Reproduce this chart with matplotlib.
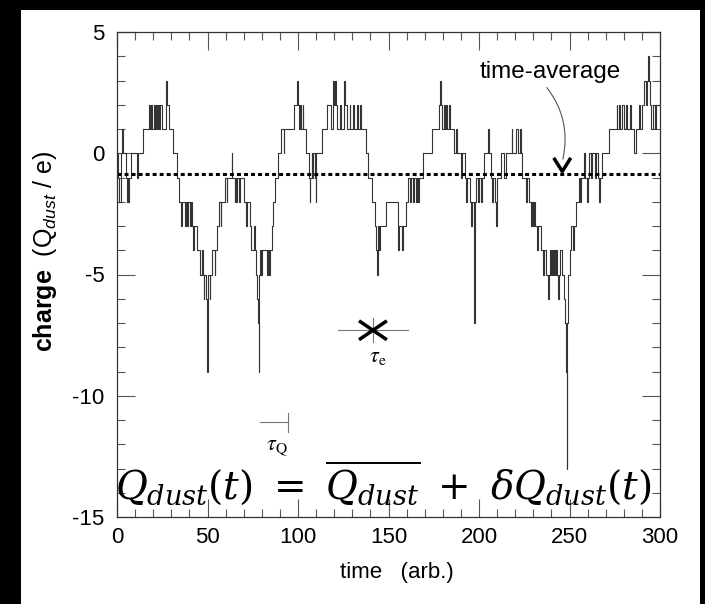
import matplotlib.pyplot as plt
from matplotlib.patches import Rectangle
from matplotlib.ticker import MultipleLocator

plt.rcParams['font.family'] = ['Liberation Sans', 'DejaVu Sans']
plt.rcParams['mathtext.fontset'] = 'custom'
plt.rcParams['mathtext.rm'] = 'Liberation Sans'
plt.rcParams['mathtext.it'] = 'Liberation Sans:italic'
plt.rcParams['mathtext.bf'] = 'Liberation Sans:bold'
plt.rcParams['axes.unicode_minus'] = False

# instantes de cambio de carga (tiempo arb.) y nivel de carga tras cada cambio
t_cambios = [0, 0.8, 1.2, 2.0, 2.4, 3.0, 3.4, 5.0, 5.5, 6.0, 6.3, 6.8, 7.5, 11.0, 11.4,
             14.5, 17.5, 18.0, 19.0, 19.4, 20.5, 21.0, 21.8, 22.2, 22.8, 23.3, 24.0, 25.0,
             27.0, 27.2, 27.6, 28.5, 31.0, 33.0, 34.5, 35.5, 36.0, 37.5, 38.0, 38.8, 39.3,
             40.2, 40.8, 41.5, 42.0, 42.4, 44.0, 46.0, 47.0, 47.5, 48.0, 48.3, 49.2, 49.5,
             49.8, 50.0, 50.5, 51.2, 51.5, 52.5, 54.0, 54.3, 55.5, 56.5, 57.2, 57.5, 59.5,
             60.5, 61.0, 63.5, 63.8, 65.0, 65.3, 66.0, 66.4, 67.3, 68.0, 70.0, 71.0, 72.0,
             73.5, 74.0, 75.5, 76.5, 77.0, 77.5, 77.8, 78.2, 78.5, 79.0, 79.5, 80.0, 83.0,
             83.3, 84.0, 84.5, 85.5, 86.2, 87.5, 89.0, 90.5, 92.0, 92.4, 98.0, 99.5, 99.8,
             100.5, 101.0, 101.6, 102.5, 103.0, 104.5, 106.0, 106.4, 106.8, 107.5, 108.0,
             108.4, 109.5, 109.8, 110.2, 113.0, 116.0, 118.0, 119.5, 120.0, 120.5, 121.0,
             121.8, 123.0, 124.0, 125.5, 126.2, 127.0, 128.5, 129.0, 130.5, 131.0, 132.5,
             133.0, 134.5, 135.0, 137.5, 138.5, 141.0, 142.5, 143.2, 143.6, 144.0, 145.0,
             145.4, 148.5, 155.0, 155.5, 156.0, 157.5, 158.0, 159.5, 161.0, 162.0, 162.5,
             163.5, 164.0, 165.0, 165.5, 166.5, 167.0, 169.0, 174.0, 178.0, 178.4, 178.8,
             179.5, 180.5, 181.0, 182.0, 182.5, 183.5, 184.0, 186.0, 187.5, 188.0, 190.0,
             190.5, 192.0, 193.0, 193.5, 195.0, 195.5, 196.0, 197.0, 197.5, 197.8, 198.5,
             199.5, 200.0, 201.0, 201.5, 203.0, 205.0, 205.5, 206.5, 207.0, 207.5, 209.0,
             209.5, 210.0, 212.0, 214.0, 215.0, 218.0, 218.5, 220.5, 221.5, 222.5, 223.0,
             224.0, 226.0, 226.5, 227.5, 229.0, 229.5, 230.0, 230.5, 231.0, 232.0, 232.5,
             234.0, 235.5, 236.0, 237.0, 238.0, 238.5, 239.0, 240.0, 240.5, 241.0, 241.5,
             242.0, 242.5, 243.0, 243.5, 244.0, 245.0, 246.0, 247.0, 247.5, 248.0, 248.4,
             248.7, 249.0, 250.0, 251.0, 252.0, 252.5, 253.5, 255.0, 256.0, 256.5, 258.0,
             258.5, 259.5, 260.0, 261.0, 262.0, 262.5, 264.0, 264.5, 266.0, 266.5, 267.0,
             268.0, 272.0, 276.0, 276.5, 277.5, 278.0, 279.0, 280.0, 281.0, 282.0, 283.5,
             284.0, 285.5, 287.0, 288.5, 289.0, 290.0, 291.0, 292.0, 293.0, 293.5, 294.0,
             294.5, 295.0, 296.0, 297.0, 298.0]
q_niveles = [0, -1, -2, -1, 0, 1, 0, -1, -2, -1, -2, -1, 0, -1, 0,
             1, 2, 1, 2, 1, 2, 1, 2, 1, 2, 1, 2, 1,
             2, 3, 2, 1, 0, -1, -2, -3, -2, -3, -2, -3, -2,
             -3, -2, -3, -4, -3, -4, -5, -4, -5, -6, -5, -6, -7,
             -9, -6, -5, -6, -5, -4, -5, -4, -3, -2, -3, -2, -1,
             -2, -1, 0, -1, -2, -1, -2, -1, -2, -1, -2, -3, -2,
             -3, -4, -3, -4, -5, -6, -7, -9, -5, -4, -5, -4, -5,
             -4, -5, -4, -3, -2, -1, 0, 1, 0, 1, 2, 3, 2,
             1, 2, 1, 2, 1, 0, -1, -2, -1, 0, -1,
             0, -1, -2, 0, 1, 2, 1, 3, 2, 3, 2,
             1, 2, 1, 3, 2, 1, 2, 1, 2, 1, 2,
             1, 2, 1, 0, -1, -2, -3, -4, -5, -3, -4,
             -3, -2, -3, -4, -3, -4, -3, -2, -1, -2, -1,
             -2, -1, -2, -1, -2, -1, 0, 1, 2, 3, 2,
             1, 2, 1, 2, 1, 2, 1, 0, 1, 0, -1,
             0, -1, -2, -1, -2, -3, -2, -3, -7, -2, -1,
             -2, -1, -2, -1, 0, 1, 0, -1, -2, -1, -2,
             -3, -1, 0, -1, 0, 1, 0, 1, 0, 1, 0,
             -1, -2, -1, -2, -3, -2, -3, -2, -3, -4, -3,
             -4, -5, -4, -5, -6, -5, -4, -5, -4, -5, -4,
             -5, -4, -5, -6, -5, -4, -5, -6, -7, -9, -13,
             -7, -5, -4, -3, -4, -3, -2, -1, -2, -1, 0,
             -1, -2, -1, 0, -1, 0, -1, 0, -1, -2, -1,
             0, 1, 2, 1, 2, 1, 2, 1, 2, 1, 2,
             1, 0, 1, 2, 1, 2, 3, 2, 3, 4, 3,
             2, 1, 2, 1, 2]
q_media = -0.85

fig = plt.figure(figsize=(7.05, 6.04), dpi=100, facecolor='black')
fig.add_artist(Rectangle((21 / 705, 0), 679 / 705, 594 / 604, transform=fig.transFigure,
                         facecolor='white', edgecolor='none', zorder=-10))
ax = fig.add_axes([117 / 705, 87 / 604, 543 / 705, 485 / 604])

ax.step(t_cambios + [300], q_niveles + [q_niveles[-1]], where='post',
        color='#333333', lw=0.8)
ax.axhline(q_media, color='black', lw=2.2, ls=(0, (1.3, 1.0)))

ax.set_xlim(0, 300)
ax.set_ylim(-15, 5)
ax.xaxis.set_major_locator(MultipleLocator(50))
ax.xaxis.set_minor_locator(MultipleLocator(10))
ax.yaxis.set_major_locator(MultipleLocator(5))
ax.yaxis.set_minor_locator(MultipleLocator(1))
ax.tick_params(which='both', direction='in', top=True, right=True, color='#555555',
               width=0.8, labelsize=16)
ax.tick_params(which='major', length=13)
ax.tick_params(which='minor', length=6)
ax.tick_params(axis='x', pad=7)
ax.tick_params(axis='y', pad=9)
for s in ax.spines.values():
    s.set_color('#333333')
    s.set_linewidth(0.9)

ax.text(-0.133, 0.548, r'$\mathbf{charge}$  (Q$_{dust}$ / e)', rotation=90,
        transform=ax.transAxes, ha='center', va='center', fontsize=18)
ax.text(0.516, -0.115, 'time   (arb.)', transform=ax.transAxes, ha='center',
        va='center', fontsize=16)

# flecha del promedio temporal
ax.text(239.2, 3.35, 'time-average', ha='center', va='center', fontsize=17.5)
ax.annotate('', xy=(246, -0.35), xytext=(236.5, 2.8),
            arrowprops=dict(arrowstyle='-', color='#555555', lw=0.8,
                            connectionstyle='arc3,rad=-0.25'))
ax.plot([241.8, 246, 250.2], [-0.25, -0.75, -0.25], color='black', lw=2.5)

# escalas de tiempo
ax.plot([122, 161], [-7.3, -7.3], color='#777777', lw=0.8)
ax.plot([141.4, 141.4], [-6.8, -7.8], color='#777777', lw=0.8)
ax.plot([134.5, 148.3], [-6.95, -7.65], color='black', lw=2.5)
ax.plot([134.5, 148.3], [-7.65, -6.95], color='black', lw=2.5)
ax.text(144.2, -8.4, r'$\tau_{\mathrm{e}}$', math_fontfamily='stix', ha='center',
        va='center', fontsize=16)
ax.plot([79, 94.5], [-11.1, -11.1], color='#777777', lw=0.8)
ax.plot([94.5, 94.5], [-10.7, -11.5], color='#777777', lw=0.8)
ax.text(88.5, -12.1, r'$\tau_{\mathrm{Q}}$', math_fontfamily='stix', ha='center',
        va='center', fontsize=16)

fig.text(383 / 705, 1 - 483 / 604,
         r'$Q_{dust}(t)\ =\ \overline{Q_{dust}}\ +\ \delta Q_{dust}(t)$',
         math_fontfamily='dejavuserif', ha='center', va='center', fontsize=28)

plt.savefig('out.png', dpi=100, facecolor=fig.get_facecolor())
